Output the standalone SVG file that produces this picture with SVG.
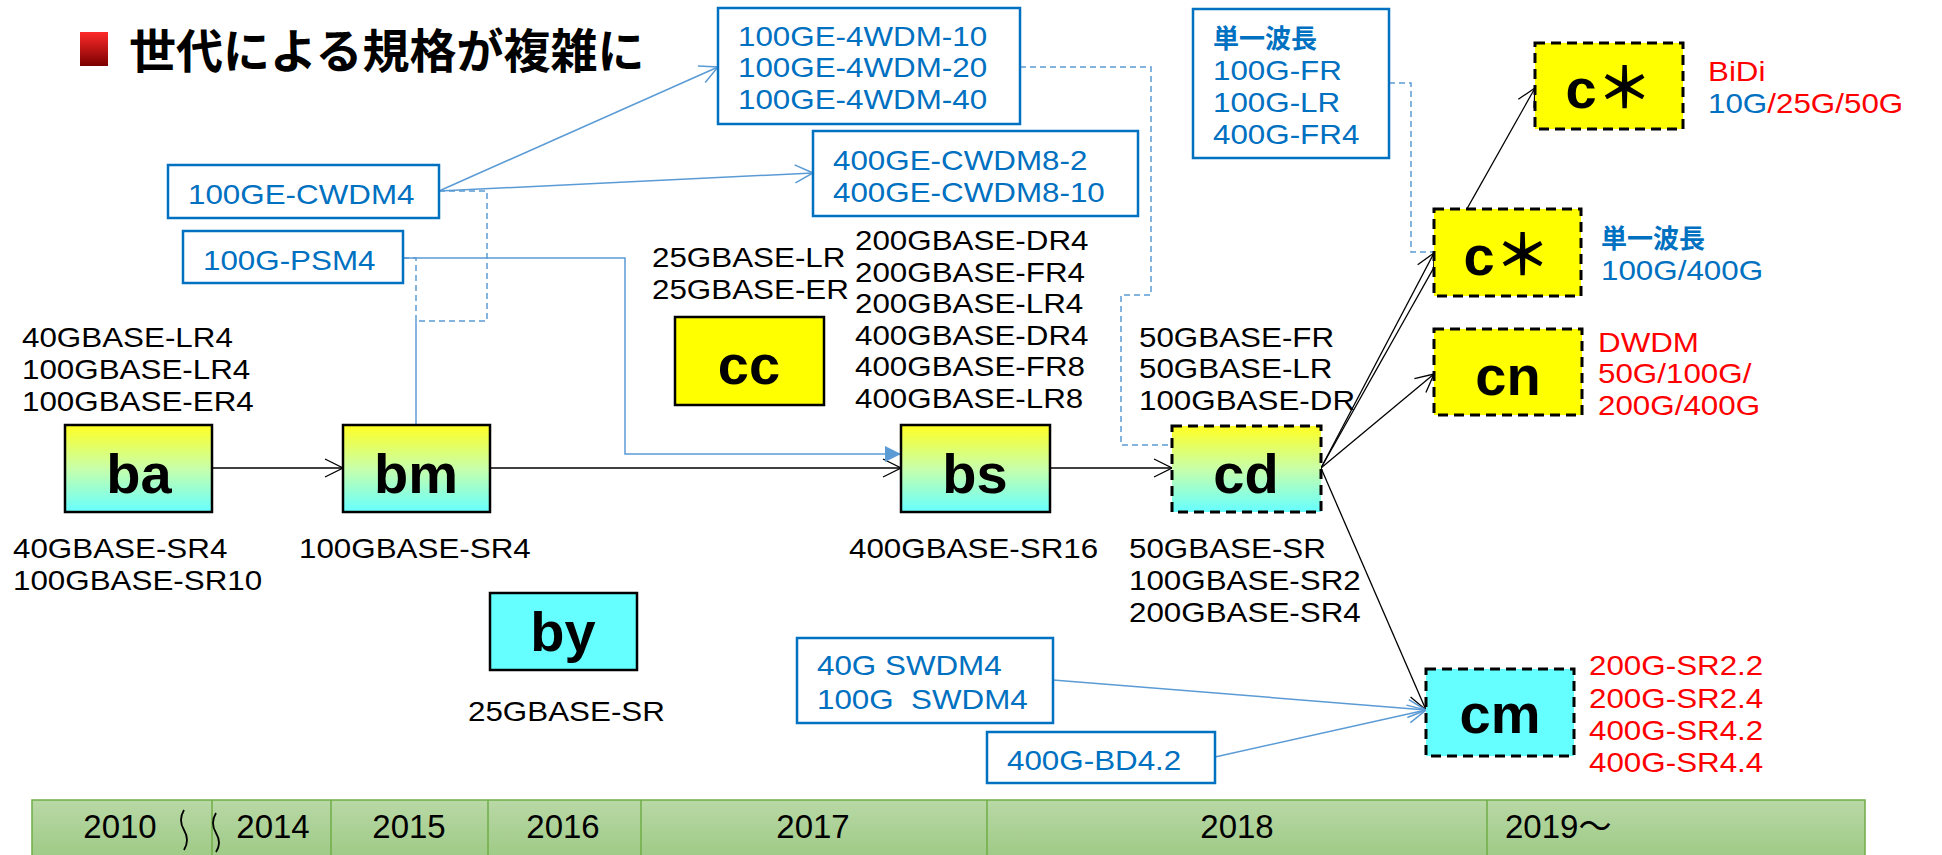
<svg xmlns="http://www.w3.org/2000/svg" width="1942" height="855" viewBox="0 0 1942 855">
<style>
.t{font-family:"Liberation Sans","Noto Sans CJK JP",sans-serif;font-size:28px;transform-box:fill-box;transform-origin:0 0;transform:scaleX(1.12)}
.k{fill:#000}
.b{fill:#0070C0}
.r{fill:#FF0000}
.jp{font-family:"Noto Sans CJK JP",sans-serif;font-size:26px;font-weight:bold}
.nt{font-family:"Liberation Sans","Noto Sans CJK JP",sans-serif;font-weight:bold;font-size:56px;text-anchor:middle;fill:#000}
.box{stroke:#000;stroke-width:2.5}
.dbox{stroke:#000;stroke-width:3;stroke-dasharray:10 6}
.bbox{fill:#fff;stroke:#0070C0;stroke-width:2.5}
.cb{stroke:#5B9BD5;stroke-width:1.5;fill:none}
.ck{stroke:#000;stroke-width:1.3;fill:none}
.dash{stroke-dasharray:6 4}
.yr{font-family:"Liberation Sans","Noto Sans CJK JP",sans-serif;font-size:33px;fill:#000;text-anchor:middle}
.yrs{font-family:"Liberation Sans","Noto Sans CJK JP",sans-serif;font-size:33px;fill:#000}
.cell{fill:none;stroke:#70AD47;stroke-width:1.5}
</style>
<defs>
<linearGradient id="yc" x1="0" y1="0" x2="0" y2="1">
<stop offset="0" stop-color="#FFFF22"/>
<stop offset="0.5" stop-color="#C8FFAA"/>
<stop offset="1" stop-color="#66FFFF"/>
</linearGradient>
<linearGradient id="red" x1="0" y1="0" x2="0" y2="1">
<stop offset="0" stop-color="#FF2A2A"/>
<stop offset="1" stop-color="#7A0000"/>
</linearGradient>
<linearGradient id="grn" x1="0" y1="0" x2="0" y2="1">
<stop offset="0" stop-color="#B9D8A6"/>
<stop offset="1" stop-color="#9CC983"/>
</linearGradient>
<marker id="ak" markerUnits="userSpaceOnUse" markerWidth="20" markerHeight="20" viewBox="-1 -1 20 20" refX="18" refY="9" orient="auto">
<path d="M0,0 L18,9 L0,18" fill="none" stroke="#000" stroke-width="1.3"/>
</marker>
<marker id="ab" markerUnits="userSpaceOnUse" markerWidth="20" markerHeight="20" viewBox="-1 -1 20 20" refX="18" refY="9" orient="auto">
<path d="M0,0 L18,9 L0,18" fill="none" stroke="#5B9BD5" stroke-width="1.5"/>
</marker>
<marker id="af" markerUnits="userSpaceOnUse" markerWidth="16" markerHeight="16" viewBox="0 0 14 14" refX="14" refY="7" orient="auto">
<path d="M0,0 L14,7 L0,14 Z" fill="#5B9BD5"/>
</marker>
</defs>

<g id="title">
<rect x="80" y="32" width="28" height="34" fill="url(#red)"/>
<text x="129" y="68" font-family="Noto Sans CJK JP, sans-serif" font-size="47" font-weight="bold" fill="#000">世代による規格が複雑に</text>
</g>

<g id="timeline">
<rect x="32" y="800" width="1833" height="62" fill="url(#grn)" stroke="#70AD47" stroke-width="1.5"/>
<path class="cell" d="M212,800V862M331,800V862M488,800V862M641,800V862M987,800V862M1487,800V862"/>
<path d="M184,810q-6,10 0,20t0,20M216,813q-6,10 0,20t0,19" fill="none" stroke="#000" stroke-width="1.8"/>
<text class="yr" x="120" y="838">2010</text>
<text class="yr" x="273" y="838">2014</text>
<text class="yr" x="409" y="838">2015</text>
<text class="yr" x="563" y="838">2016</text>
<text class="yr" x="813" y="838">2017</text>
<text class="yr" x="1237" y="838">2018</text>
<text class="yrs" x="1505" y="838">2019～</text>
</g>

<g id="connectors">
<path class="ck" d="M212,468H343" marker-end="url(#ak)"/>
<path class="ck" d="M490,468H901" marker-end="url(#ak)"/>
<path class="ck" d="M1050,468H1172" marker-end="url(#ak)"/>
<path class="ck" d="M1321,468L1535,88" marker-end="url(#ak)"/>
<path class="ck" d="M1321,468L1434,253" marker-end="url(#ak)"/>
<path class="ck" d="M1321,468L1434,374" marker-end="url(#ak)"/>
<path class="ck" d="M1321,468L1426,710" marker-end="url(#ak)"/>
<path class="cb" d="M439,191L718,67" marker-end="url(#ab)"/>
<path class="cb" d="M439,191L813,173" marker-end="url(#ab)"/>
<path class="cb dash" d="M439,191H487V321H416"/>
<path class="cb dash" d="M403,258H416V321"/>
<path class="cb" d="M416,321V425"/>
<path class="cb" d="M403,258H625V454H901" marker-end="url(#af)"/>
<path class="cb dash" d="M1020,67H1151V295H1121V445H1172"/>
<path class="cb dash" d="M1389,83H1411V252H1434"/>
<path class="cb" d="M1053,680L1426,710" marker-end="url(#ab)"/>
<path class="cb" d="M1215,757L1426,710" marker-end="url(#ab)"/>
</g>

<g id="node-ba"><rect class="box" x="65" y="425" width="147" height="87" fill="url(#yc)"/><text class="nt" x="139" y="493">ba</text></g>
<g id="node-bm"><rect class="box" x="343" y="425" width="147" height="87" fill="url(#yc)"/><text class="nt" x="416" y="493">bm</text></g>
<g id="node-bs"><rect class="box" x="901" y="425" width="149" height="87" fill="url(#yc)"/><text class="nt" x="975" y="493">bs</text></g>
<g id="node-cd"><rect class="dbox" x="1172" y="426" width="149" height="86" fill="url(#yc)"/><text class="nt" x="1246" y="493">cd</text></g>
<g id="node-cc"><rect class="box" x="675" y="317" width="149" height="88" fill="#FFFF00"/><text class="nt" x="749" y="384">cc</text></g>
<g id="node-by"><rect class="box" x="490" y="593" width="147" height="77" fill="#66FFFF"/><text class="nt" x="563" y="651">by</text></g>
<g id="node-cstar1"><rect class="dbox" x="1535" y="43" width="148" height="86" fill="#FFFF00"/><text class="nt" x="1609" y="108">c＊</text></g>
<g id="node-cstar2"><rect class="dbox" x="1434" y="209" width="147" height="87" fill="#FFFF00"/><text class="nt" x="1507" y="275">c＊</text></g>
<g id="node-cn"><rect class="dbox" x="1434" y="329" width="148" height="86" fill="#FFFF00"/><text class="nt" x="1508" y="395">cn</text></g>
<g id="node-cm"><rect class="dbox" x="1426" y="669" width="148" height="87" fill="#66FFFF"/><text class="nt" x="1500" y="733">cm</text></g>

<g id="node-cwdm4"><rect class="bbox" x="168" y="165" width="271" height="53"/><text class="t b" x="188" y="204">100GE-CWDM4</text></g>
<g id="node-psm4"><rect class="bbox" x="183" y="231" width="220" height="52"/><text class="t b" x="203" y="270">100G-PSM4</text></g>
<g id="node-4wdm"><rect class="bbox" x="718" y="8" width="302" height="116"/>
<text class="t b" x="738" y="46">100GE-4WDM-10</text>
<text class="t b" x="738" y="77.5">100GE-4WDM-20</text>
<text class="t b" x="738" y="109">100GE-4WDM-40</text></g>
<g id="node-cwdm8"><rect class="bbox" x="813" y="131" width="325" height="85"/>
<text class="t b" x="833" y="170">400GE-CWDM8-2</text>
<text class="t b" x="833" y="202">400GE-CWDM8-10</text></g>
<g id="node-single"><rect class="bbox" x="1193" y="9" width="196" height="149"/>
<text class="jp b" x="1213" y="48">単一波長</text>
<text class="t b" x="1213" y="80">100G-FR</text>
<text class="t b" x="1213" y="112">100G-LR</text>
<text class="t b" x="1213" y="144">400G-FR4</text></g>
<g id="node-swdm4"><rect class="bbox" x="797" y="638" width="256" height="85"/>
<text class="t b" x="817" y="675">40G SWDM4</text>
<text class="t b" x="817" y="709" xml:space="preserve">100G  SWDM4</text></g>
<g id="node-bd42"><rect class="bbox" x="987" y="732" width="228" height="51"/>
<text class="t b" x="1007" y="770">400G-BD4.2</text></g>

<g id="labels-black">
<text class="t k" x="22" y="347">40GBASE-LR4</text>
<text class="t k" x="22" y="379">100GBASE-LR4</text>
<text class="t k" x="22" y="411">100GBASE-ER4</text>
<text class="t k" x="13" y="558">40GBASE-SR4</text>
<text class="t k" x="13" y="590">100GBASE-SR10</text>
<text class="t k" x="299" y="558">100GBASE-SR4</text>
<text class="t k" x="652" y="267">25GBASE-LR</text>
<text class="t k" x="652" y="299">25GBASE-ER</text>
<text class="t k" x="855" y="250">200GBASE-DR4</text>
<text class="t k" x="855" y="281.6">200GBASE-FR4</text>
<text class="t k" x="855" y="313.2">200GBASE-LR4</text>
<text class="t k" x="855" y="344.8">400GBASE-DR4</text>
<text class="t k" x="855" y="376.4">400GBASE-FR8</text>
<text class="t k" x="855" y="408">400GBASE-LR8</text>
<text class="t k" x="849" y="558">400GBASE-SR16</text>
<text class="t k" x="1139" y="347">50GBASE-FR</text>
<text class="t k" x="1139" y="378.5">50GBASE-LR</text>
<text class="t k" x="1139" y="410">100GBASE-DR</text>
<text class="t k" x="1129" y="558">50GBASE-SR</text>
<text class="t k" x="1129" y="590">100GBASE-SR2</text>
<text class="t k" x="1129" y="622">200GBASE-SR4</text>
<text class="t k" x="468" y="721">25GBASE-SR</text>
</g>

<g id="labels-side">
<text class="t r" x="1708" y="81">BiDi</text>
<text class="t" x="1708" y="113"><tspan class="b">10G</tspan><tspan class="r">/25G/50G</tspan></text>
<text class="jp b" x="1601" y="248">単一波長</text>
<text class="t b" x="1601" y="280">100G/400G</text>
<text class="t r" x="1598" y="352">DWDM</text>
<text class="t r" x="1598" y="383.5">50G/100G/</text>
<text class="t r" x="1598" y="415">200G/400G</text>
<text class="t r" x="1589" y="675">200G-SR2.2</text>
<text class="t r" x="1589" y="708">200G-SR2.4</text>
<text class="t r" x="1589" y="740">400G-SR4.2</text>
<text class="t r" x="1589" y="772">400G-SR4.4</text>
</g>
</svg>
